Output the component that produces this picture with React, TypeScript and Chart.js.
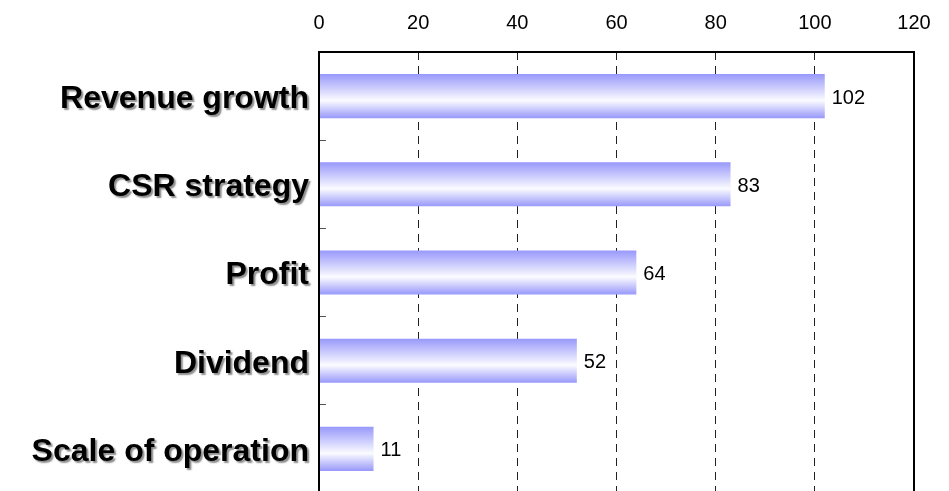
import React, { useEffect, useRef } from "react";
import { Chart, registerables } from "chart.js";

Chart.register(...registerables);

const categories = ["Revenue growth", "CSR strategy", "Profit", "Dividend", "Scale of operation"];
const values = [102, 83, 64, 52, 11];
const xMin = 0;
const xMax = 120;
const xStep = 20;

const FONT = "'Liberation Sans', Arial, sans-serif";

const framePlugin = {
  id: "frameAndLabels",
  afterLayout(chart: any) {
    const s: any = chart.scales.y;
    if (s && !s.__shadowPatched) {
      const orig = s.drawLabels;
      s.drawLabels = function (area: any) {
        const ctx = this.ctx;
        ctx.save();
        ctx.translate(0, 3);
        ctx.shadowColor = "rgba(0,0,0,0.45)";
        ctx.shadowOffsetX = 2;
        ctx.shadowOffsetY = 2;
        ctx.shadowBlur = 1.5;
        orig.call(this, area);
        ctx.restore();
      };
      s.__shadowPatched = true;
    }
  },
  afterDatasetsDraw(chart: any) {
    const { ctx, chartArea } = chart;
    ctx.save();
    ctx.font = `20px ${FONT}`;
    ctx.fillStyle = "#000";
    ctx.textAlign = "left";
    ctx.textBaseline = "middle";
    const meta = chart.getDatasetMeta(0);
    meta.data.forEach((el: any, i: number) => {
      ctx.fillText(String(chart.data.datasets[0].data[i]), el.x + 7, el.y + 2);
    });
    ctx.strokeStyle = "#000";
    ctx.lineWidth = 2;
    ctx.strokeRect(chartArea.left, chartArea.top, chartArea.right - chartArea.left, chartArea.bottom - chartArea.top);
    ctx.restore();
  },
};

export default function App() {
  const ref = useRef<HTMLCanvasElement | null>(null);

  useEffect(() => {
    if (!ref.current) return;
    const chart = new Chart(ref.current, {
      type: "bar",
      data: {
        labels: categories,
        datasets: [
          {
            data: values,
            barPercentage: 0.5,
            categoryPercentage: 1,
            borderWidth: 0,
            backgroundColor: (c: any) => {
              const ch = c.chart;
              const ys = ch.scales && ch.scales.y;
              if (!ys || c.type !== "data" || !ch.chartArea) return "#9999ff";
              const cy = ys.getPixelForValue(c.dataIndex);
              const half = (ys.height / categories.length) * 0.5 / 2;
              const g = ch.ctx.createLinearGradient(0, cy - half, 0, cy + half);
              g.addColorStop(0, "#9898fb");
              g.addColorStop(0.6, "#fbfbff");
              g.addColorStop(1, "#9898fb");
              return g;
            },
          },
        ],
      },
      options: {
        indexAxis: "y",
        animation: false,
        responsive: false,
        maintainAspectRatio: false,
        layout: { padding: { left: 0, right: 35, top: 0, bottom: 2 } },
        plugins: {
          legend: { display: false },
          tooltip: { enabled: false },
        },
        scales: {
          x: {
            type: "linear",
            position: "top",
            min: xMin,
            max: xMax,
            afterFit: (s: any) => {
              s.height = 52;
              s.paddingLeft = 0;
              s.paddingRight = 0;
            },
            ticks: {
              stepSize: xStep,
              color: "#000",
              font: { family: FONT, size: 20 },
              padding: 17,
            },
            grid: {
              color: "#222",
              lineWidth: 1,
              drawTicks: false,
              tickLength: 0,
            },
            border: { display: false, dash: [8, 6] },
          },
          y: {
            type: "category",
            position: "left",
            offset: true,
            afterFit: (s: any) => {
              s.width = 319;
              s.paddingTop = 0;
              s.paddingBottom = 0;
            },
            ticks: {
              color: "#000",
              font: { family: FONT, size: 32, weight: "bold" },
              padding: 17,
            },
            grid: {
              display: true,
              offset: true,
              drawOnChartArea: false,
              drawTicks: true,
              tickLength: -7,
              color: "#555",
              lineWidth: 1,
            },
            border: { display: false },
          },
        },
      },
      plugins: [framePlugin],
    } as any);
    return () => chart.destroy();
  }, []);

  return (
    <div style={{ position: "fixed", left: 0, top: 0, width: 949, height: 491, overflow: "hidden", background: "#fff" }}>
      <canvas ref={ref} width={949} height={495} style={{ display: "block" }} />
    </div>
  );
}
